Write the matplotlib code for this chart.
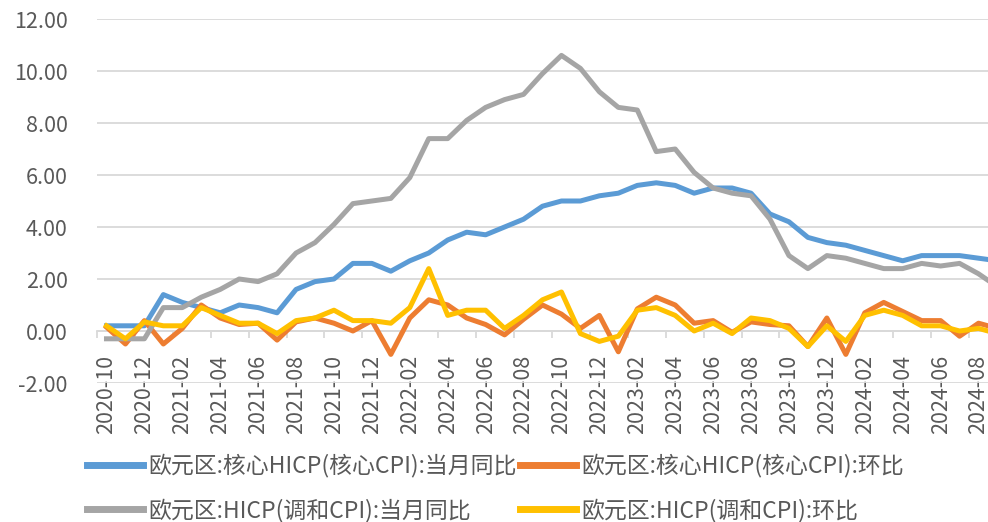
import matplotlib
matplotlib.use("Agg")
import matplotlib.pyplot as plt
import numpy as np

plt.rcParams['font.family'] = ['Noto Sans CJK SC', 'DejaVu Sans']

# monthly, 2020-10 .. 2024-09
months = [f"{y}-{m:02d}" for y in range(2020, 2025) for m in range(1, 13)]
months = months[months.index("2020-10"):months.index("2024-09") + 1]

core_yoy = [0.2, 0.2, 0.2, 1.4, 1.1, 0.9, 0.7, 1.0, 0.9, 0.7, 1.6, 1.9,
            2.0, 2.6, 2.6, 2.3, 2.7, 3.0, 3.5, 3.8, 3.7, 4.0, 4.3, 4.8,
            5.0, 5.0, 5.2, 5.3, 5.6, 5.7, 5.6, 5.3, 5.5, 5.5, 5.3, 4.5,
            4.2, 3.6, 3.4, 3.3, 3.1, 2.9, 2.7, 2.9, 2.9, 2.9, 2.8, 2.7]
core_mom = [0.15, -0.5, 0.4, -0.5, 0.1, 1.0, 0.5, 0.25, 0.3, -0.35, 0.35, 0.5,
            0.3, 0.0, 0.4, -0.9, 0.5, 1.2, 1.0, 0.5, 0.25, -0.15, 0.45, 1.0,
            0.65, 0.1, 0.6, -0.8, 0.85, 1.3, 1.0, 0.3, 0.4, -0.05, 0.35, 0.25,
            0.2, -0.6, 0.5, -0.9, 0.7, 1.1, 0.75, 0.4, 0.4, -0.2, 0.3, 0.1]
hicp_yoy = [-0.3, -0.3, -0.3, 0.9, 0.9, 1.3, 1.6, 2.0, 1.9, 2.2, 3.0, 3.4,
            4.1, 4.9, 5.0, 5.1, 5.9, 7.4, 7.4, 8.1, 8.6, 8.9, 9.1, 9.9,
            10.6, 10.1, 9.2, 8.6, 8.5, 6.9, 7.0, 6.1, 5.5, 5.3, 5.2, 4.3,
            2.9, 2.4, 2.9, 2.8, 2.6, 2.4, 2.4, 2.6, 2.5, 2.6, 2.2, 1.7]
hicp_mom = [0.2, -0.3, 0.35, 0.2, 0.2, 0.9, 0.6, 0.3, 0.3, -0.1, 0.4, 0.5,
            0.8, 0.4, 0.4, 0.3, 0.9, 2.4, 0.6, 0.8, 0.8, 0.1, 0.6, 1.2,
            1.5, -0.1, -0.4, -0.2, 0.8, 0.9, 0.6, 0.0, 0.3, -0.1, 0.5, 0.4,
            0.1, -0.6, 0.2, -0.4, 0.6, 0.8, 0.6, 0.2, 0.2, 0.0, 0.1, -0.1]

series = [
    ("欧元区:核心HICP(核心CPI):当月同比", core_yoy, "#5B9BD5"),
    ("欧元区:核心HICP(核心CPI):环比", core_mom, "#ED7D31"),
    ("欧元区:HICP(调和CPI):当月同比", hicp_yoy, "#A5A5A5"),
    ("欧元区:HICP(调和CPI):环比", hicp_mom, "#FFC000"),
]

text_color = "#595959"
grid_color = "#D9D9D9"

fig = plt.figure(figsize=(9.88, 5.22), dpi=100)
ax = fig.add_axes([97 / 988, 1 - 383 / 522, 1 - 97 / 988, (383 - 19) / 522])

x = np.arange(len(months))
lines = []
for label, vals, color in series:
    ln, = ax.plot(x, vals, color=color, lw=3.6, label=label)
    lines.append(ln)

ax.set_xlim(-0.5, 46.5)
ax.set_ylim(-2, 12)
ax.set_yticks(np.arange(-2, 13, 2))
ax.set_yticklabels([f"{v:.2f}" for v in np.arange(-2, 13, 2)])
ax.grid(axis="y", color=grid_color, lw=1.3)
ax.set_axisbelow(True)

for s in ["left", "right", "top"]:
    ax.spines[s].set_visible(False)
ax.spines["bottom"].set_position(("data", 0))
ax.spines["bottom"].set_color(grid_color)
ax.spines["bottom"].set_linewidth(1.3)
ax.spines["bottom"].set_zorder(0.5)

ax.set_xticks(x[::2])
ax.set_xticklabels(months[::2], rotation=90)
ax.set_xticks(np.arange(-0.5, 47, 2), minor=True)
ax.tick_params(axis="x", which="major", length=0, pad=17, labelsize=15.5,
               labelcolor=text_color)
ax.tick_params(axis="x", which="minor", length=5, width=1.3, color=grid_color)
ax.tick_params(axis="y", length=0, pad=21, labelsize=15.5, labelcolor=text_color)

# legend filled row by row: blue, orange / gray, yellow
order = [0, 2, 1, 3]
leg = fig.legend([lines[i] for i in order], [series[i][0] for i in order],
                 loc="upper left", bbox_to_anchor=(87 / 988, 1 - 454 / 522),
                 ncol=2, frameon=False, fontsize=16.5, handlelength=2.45,
                 handletextpad=0.22, columnspacing=0.15, labelspacing=0.9,
                 borderpad=0, borderaxespad=0)
for t in leg.get_texts():
    t.set_color(text_color)
for h in leg.legend_handles:
    h.set_linewidth(5)

fig.savefig("out.png", dpi=100)
